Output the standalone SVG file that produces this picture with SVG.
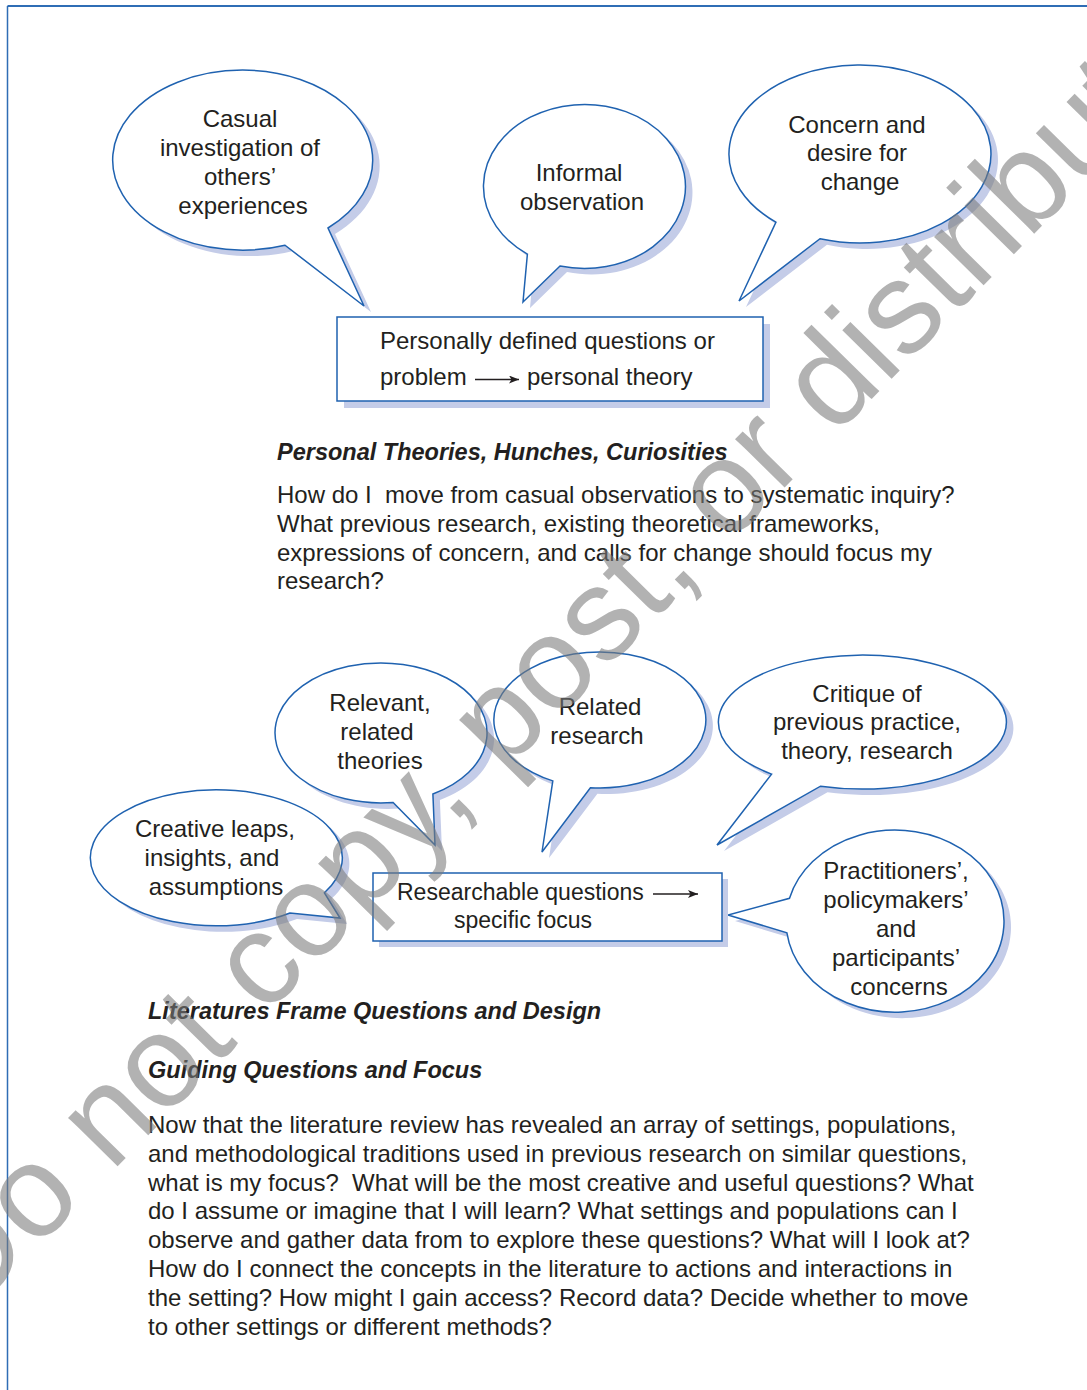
<svg xmlns="http://www.w3.org/2000/svg" width="1087" height="1390" viewBox="0 0 1087 1390">
  <defs>
    <style>
      .t{font-family:"Liberation Sans",Arial,Helvetica,sans-serif;font-size:24px;fill:#231f20}
      .c{text-anchor:middle}
      .s{font-size:23px}
      .h{font-weight:bold;font-style:italic;font-size:23.5px}
      .bub{fill:#fff;stroke:#1f62b0;stroke-width:1.5;stroke-linejoin:miter}
      .sh{fill:#c4cce8}
      .box{fill:#fff;stroke:#1f62b0;stroke-width:1.5}
      .frame{stroke:#2f6db5;fill:none}
      .arr{stroke:#231f20;stroke-width:1.4;fill:none}
      .wm{font-family:"Liberation Sans",Arial,Helvetica,sans-serif;font-size:131px;fill:#7a7a7a;fill-opacity:0.58}
    </style>
    <marker id="ah" viewBox="0 0 10 8" markerUnits="userSpaceOnUse" markerWidth="11" markerHeight="8" refX="10" refY="4" orient="auto">
      <path d="M0,0 L10,4 L0,8 L2.5,4 Z" fill="#231f20"/>
    </marker>
  </defs>

  <!-- page frame -->
  <g id="frame">
    <line class="frame" x1="7.5" y1="6" x2="1087" y2="6" stroke-width="2"/>
    <line class="frame" x1="7.5" y1="6" x2="7.5" y2="1390" stroke-width="1.5"/>
  </g>

  <!-- upper cluster: sources of personal theories -->
  <g id="casual">
    <path class="sh" transform="translate(7,6)" d="M364,306 L328,228 A130,90 0 1 0 285,245.2 Z"/>
    <path class="bub" d="M364,306 L328,228 A130,90 0 1 0 285,245.2 Z"/>
    <text class="t c" x="240" y="127">Casual</text>
    <text class="t c" x="240" y="156">investigation of</text>
    <text class="t c" x="240" y="185">others’</text>
    <text class="t c" x="243" y="214">experiences</text>
  </g>

  <g id="informal">
    <path class="sh" transform="translate(7,6)" d="M523,302 L560,266 A101,82 0 1 0 527.4,254.1 Z"/>
    <path class="bub" d="M523,302 L560,266 A101,82 0 1 0 527.4,254.1 Z"/>
    <text class="t c" x="579" y="181">Informal</text>
    <text class="t c" x="582" y="210">observation</text>
  </g>

  <g id="concern">
    <path class="sh" transform="translate(7,6)" d="M739,301 L820,238.7 A131,89 0 1 0 775.9,222.2 Z"/>
    <path class="bub" d="M739,301 L820,238.7 A131,89 0 1 0 775.9,222.2 Z"/>
    <text class="t c" x="857" y="133">Concern and</text>
    <text class="t c" x="857" y="161">desire for</text>
    <text class="t c" x="860" y="190">change</text>
  </g>

  <g id="personal-theory">
    <rect class="sh" x="344" y="324" width="426" height="84"/>
    <rect class="box" x="337" y="317" width="426" height="84"/>
    <text class="t" x="380" y="349">Personally defined questions or</text>
    <text class="t" x="380" y="385">problem</text>
    <path class="arr" d="M475,379.5 H519" marker-end="url(#ah)"/>
    <text class="t" x="527" y="385">personal theory</text>
  </g>

  <g id="section-personal">
    <text class="t h" x="277" y="460">Personal Theories, Hunches, Curiosities</text>
    <text class="t" xml:space="preserve"><tspan x="277" y="503">How do I  move from casual observations to systematic inquiry?</tspan><tspan x="277" y="532">What previous research, existing theoretical frameworks,</tspan><tspan x="277" y="561">expressions of concern, and calls for change should focus my</tspan><tspan x="277" y="589">research?</tspan></text>
  </g>

  <!-- lower cluster: literatures framing the questions -->
  <g id="relevant">
    <path class="sh" transform="translate(7,6)" d="M435,845 L432.9,794 A106,70 0 1 0 393.1,802.5 Z"/>
    <path class="bub" d="M435,845 L432.9,794 A106,70 0 1 0 393.1,802.5 Z"/>
    <text class="t c" x="380" y="711">Relevant,</text>
    <text class="t c" x="377" y="740">related</text>
    <text class="t c" x="380" y="769">theories</text>
  </g>

  <g id="related">
    <path class="sh" transform="translate(7,6)" d="M542,852 L590.4,787.7 A106,68 0 1 0 552.8,780.9 Z"/>
    <path class="bub" d="M542,852 L590.4,787.7 A106,68 0 1 0 552.8,780.9 Z"/>
    <text class="t c" x="600" y="715">Related</text>
    <text class="t c" x="597" y="744">research</text>
  </g>

  <g id="critique">
    <path class="sh" transform="translate(7,6)" d="M717,845 L820.5,786.2 A144,67 0 1 0 771.6,774.1 Z"/>
    <path class="bub" d="M717,845 L820.5,786.2 A144,67 0 1 0 771.6,774.1 Z"/>
    <text class="t c" x="867" y="702">Critique of</text>
    <text class="t c" x="867" y="730">previous practice,</text>
    <text class="t c" x="867" y="759">theory, research</text>
  </g>

  <g id="creative">
    <path class="sh" transform="translate(7,6)" d="M340,918 L324.4,892.8 A126,68 0 1 0 290,913 Z"/>
    <path class="bub" d="M340,918 L324.4,892.8 A126,68 0 1 0 290,913 Z"/>
    <text class="t c" x="215" y="837">Creative leaps,</text>
    <text class="t c" x="212" y="866">insights, and</text>
    <text class="t c" x="216" y="895">assumptions</text>
  </g>

  <g id="practitioners">
    <path class="sh" transform="translate(7,6)" d="M728,915 L786.9,932.8 A109,91 0 1 0 789.5,898.3 Z"/>
    <path class="bub" d="M728,915 L786.9,932.8 A109,91 0 1 0 789.5,898.3 Z"/>
    <text class="t c" x="896" y="879">Practitioners’,</text>
    <text class="t c" x="896" y="908">policymakers’</text>
    <text class="t c" x="896" y="937">and</text>
    <text class="t c" x="896" y="966">participants’</text>
    <text class="t c" x="899" y="995">concerns</text>
  </g>

  <g id="researchable">
    <rect class="sh" x="379" y="879" width="349" height="68"/>
    <rect class="box" x="373" y="873" width="349" height="68"/>
    <text class="t s" x="397" y="900">Researchable questions</text>
    <path class="arr" d="M653,894 H698" marker-end="url(#ah)"/>
    <text class="t s c" x="523" y="928">specific focus</text>
  </g>

  <g id="section-literature">
    <text class="t h" x="148" y="1019">Literatures Frame Questions and Design</text>
    <text class="t h" x="148" y="1078">Guiding Questions and Focus</text>
    <text class="t"><tspan x="148" y="1133">Now that the literature review has revealed an array of settings, populations,</tspan><tspan x="148" y="1162">and methodological traditions used in previous research on similar questions,</tspan><tspan x="148" y="1191" xml:space="preserve">what is my focus?  What will be the most creative and useful questions? What</tspan><tspan x="148" y="1219">do I assume or imagine that I will learn? What settings and populations can I</tspan><tspan x="148" y="1248">observe and gather data from to explore these questions? What will I look at?</tspan><tspan x="148" y="1277">How do I connect the concepts in the literature to actions and interactions in</tspan><tspan x="148" y="1306">the setting? How might I gain access? Record data? Decide whether to move</tspan><tspan x="148" y="1335">to other settings or different methods?</tspan></text>
  </g>

  <!-- diagonal notice across the page -->
  <text class="wm" transform="translate(-31.6,1318.2) rotate(-45.5)" x="0" y="0">Do not copy, post, or distribute</text>
</svg>
